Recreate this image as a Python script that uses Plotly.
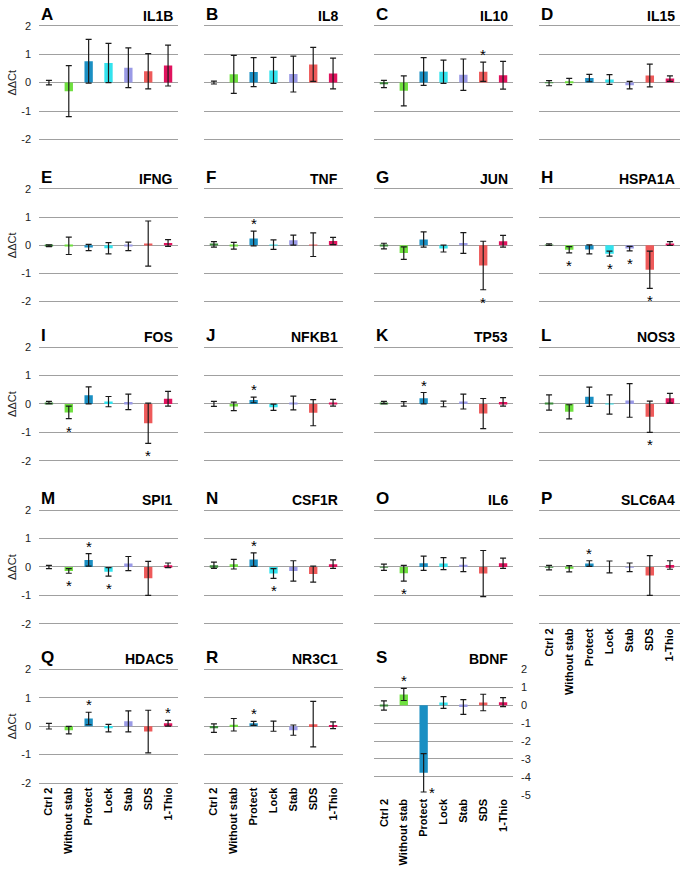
import plotly.graph_objects as go

# ---------------- data ----------------
categories = ["Ctrl 2", "Without stab", "Protect", "Lock", "Stab", "SDS", "1-Thio"]
bar_colors = ["#3c8c3c", "#6fe03f", "#1a8fc3", "#33e3ee", "#9a9ae6", "#ee5a5a", "#e0135e"]
genes = ["IL1B", "IL8", "IL10", "IL15", "IFNG", "TNF", "JUN", "HSPA1A", "FOS", "NFKB1",
         "TP53", "NOS3", "SPI1", "CSF1R", "IL6", "SLC6A4", "HDAC5", "NR3C1", "BDNF"]
letters = ["A", "B", "C", "D", "E", "F", "G", "H", "I", "J",
           "K", "L", "M", "N", "O", "P", "Q", "R", "S"]
yticks_std = [-2, -1, 0, 1, 2]
yticks_bdnf = [-5, -4, -3, -2, -1, 0, 1, 2]
y_title = "ΔΔCt"

# mean ΔΔCt, error, significance ("+" above, "-" below, "r" right of lower end)
IL1B_mean = [0.00, -0.30, 0.75, 0.69, 0.52, 0.40, 0.60]
IL1B_err = [0.08, 0.90, 0.77, 0.69, 0.70, 0.62, 0.72]
IL1B_sig = ["", "", "", "", "", "", ""]

IL8_mean = [0.00, 0.29, 0.37, 0.43, 0.30, 0.64, 0.32]
IL8_err = [0.05, 0.67, 0.51, 0.46, 0.63, 0.60, 0.54]
IL8_sig = ["", "", "", "", "", "", ""]

IL10_mean = [-0.05, -0.29, 0.39, 0.38, 0.28, 0.38, 0.26]
IL10_err = [0.13, 0.53, 0.49, 0.41, 0.55, 0.34, 0.49]
IL10_sig = ["", "", "", "", "", "+", ""]

IL15_mean = [-0.02, 0.04, 0.16, 0.11, -0.09, 0.25, 0.14]
IL15_err = [0.09, 0.11, 0.13, 0.17, 0.13, 0.40, 0.10]
IL15_sig = ["", "", "", "", "", "", ""]

IFNG_mean = [-0.02, -0.02, -0.08, -0.11, -0.04, 0.06, 0.08]
IFNG_err = [0.03, 0.31, 0.11, 0.20, 0.15, 0.80, 0.12]
IFNG_sig = ["", "", "", "", "", "", ""]

TNF_mean = [0.03, -0.02, 0.24, 0.02, 0.18, 0.02, 0.15]
TNF_err = [0.10, 0.12, 0.26, 0.17, 0.18, 0.42, 0.13]
TNF_sig = ["", "", "+", "", "", "", ""]

JUN_mean = [-0.03, -0.28, 0.20, -0.12, 0.08, -0.72, 0.14]
JUN_err = [0.10, 0.22, 0.27, 0.12, 0.37, 0.86, 0.21]
JUN_sig = ["", "", "", "", "", "-", ""]

HSPA1A_mean = [0.02, -0.16, -0.15, -0.30, -0.12, -0.87, 0.06]
HSPA1A_err = [0.03, 0.11, 0.16, 0.09, 0.08, 0.66, 0.07]
HSPA1A_sig = ["", "-", "", "-", "-", "-", ""]

FOS_mean = [0.05, -0.30, 0.30, 0.08, 0.07, -0.68, 0.18]
FOS_err = [0.04, 0.22, 0.30, 0.18, 0.27, 0.71, 0.26]
FOS_sig = ["", "-", "", "", "", "-", ""]

NFKB1_mean = [0.00, -0.09, 0.14, -0.12, 0.03, -0.31, 0.04]
NFKB1_err = [0.09, 0.15, 0.10, 0.11, 0.24, 0.46, 0.12]
NFKB1_sig = ["", "", "+", "", "", "", ""]

TP53_mean = [0.05, 0.00, 0.20, 0.00, 0.08, -0.34, 0.07]
TP53_err = [0.04, 0.08, 0.20, 0.10, 0.26, 0.53, 0.15]
TP53_sig = ["", "", "+", "", "", "", ""]

NOS3_mean = [0.05, -0.28, 0.25, -0.02, 0.12, -0.45, 0.20]
NOS3_err = [0.27, 0.25, 0.34, 0.34, 0.59, 0.55, 0.17]
NOS3_sig = ["", "", "", "", "", "-", ""]

SPI1_mean = [0.00, -0.14, 0.25, -0.17, 0.12, -0.40, 0.06]
SPI1_err = [0.06, 0.08, 0.22, 0.15, 0.25, 0.60, 0.08]
SPI1_sig = ["", "-", "+", "-", "", "", ""]

CSF1R_mean = [0.06, 0.10, 0.26, -0.23, -0.14, -0.25, 0.10]
CSF1R_err = [0.11, 0.17, 0.24, 0.17, 0.36, 0.28, 0.15]
CSF1R_sig = ["", "", "+", "-", "", "", ""]

IL6_mean = [-0.01, -0.22, 0.13, 0.12, 0.08, -0.23, 0.13]
IL6_err = [0.11, 0.28, 0.25, 0.21, 0.24, 0.81, 0.18]
IL6_sig = ["", "-", "", "", "", "", ""]

SLC6A4_mean = [-0.02, -0.06, 0.12, 0.00, -0.01, -0.30, 0.07]
SLC6A4_err = [0.08, 0.11, 0.10, 0.21, 0.15, 0.70, 0.15]
SLC6A4_sig = ["", "", "+", "", "", "", ""]

HDAC5_mean = [0.00, -0.14, 0.27, -0.07, 0.17, -0.19, 0.10]
HDAC5_err = [0.10, 0.13, 0.22, 0.13, 0.37, 0.75, 0.10]
HDAC5_sig = ["", "", "+", "", "", "", "+"]

NR3C1_mean = [-0.07, 0.05, 0.10, 0.00, -0.14, 0.07, 0.03]
NR3C1_err = [0.15, 0.22, 0.07, 0.18, 0.18, 0.80, 0.12]
NR3C1_sig = ["", "", "+", "", "", "", ""]

BDNF_mean = [-0.02, 0.60, -3.77, 0.15, -0.10, 0.15, 0.17]
BDNF_err = [0.26, 0.34, 1.07, 0.33, 0.41, 0.46, 0.25]
BDNF_sig = ["", "+", "r", "", "", "", ""]

means = [IL1B_mean, IL8_mean, IL10_mean, IL15_mean, IFNG_mean, TNF_mean, JUN_mean,
         HSPA1A_mean, FOS_mean, NFKB1_mean, TP53_mean, NOS3_mean, SPI1_mean, CSF1R_mean,
         IL6_mean, SLC6A4_mean, HDAC5_mean, NR3C1_mean, BDNF_mean]
errs = [IL1B_err, IL8_err, IL10_err, IL15_err, IFNG_err, TNF_err, JUN_err,
        HSPA1A_err, FOS_err, NFKB1_err, TP53_err, NOS3_err, SPI1_err, CSF1R_err,
        IL6_err, SLC6A4_err, HDAC5_err, NR3C1_err, BDNF_err]
sigs = [IL1B_sig, IL8_sig, IL10_sig, IL15_sig, IFNG_sig, TNF_sig, JUN_sig,
        HSPA1A_sig, FOS_sig, NFKB1_sig, TP53_sig, NOS3_sig, SPI1_sig, CSF1R_sig,
        IL6_sig, SLC6A4_sig, HDAC5_sig, NR3C1_sig, BDNF_sig]

# ---------------- layout geometry (pixels) ----------------
W, H = 683, 874
FONT = "Liberation Sans, Arial, sans-serif"
col_px = [(39, 178), (204, 343), (374, 513), (539, 680)]
row_px = [(21, 136), (186, 300), (346, 461), (511, 626), (672, 787)]
bdnf_px = (672, 799)
PAD = 0.05

fig = go.Figure()
layout = {}
annotations = []

for i, gene in enumerate(genes):
    r, c = divmod(i, 4)
    n = i + 1
    xa = "x" if n == 1 else f"x{n}"
    ya = "y" if n == 1 else f"y{n}"
    is_bdnf = gene == "BDNF"
    x0, x1 = col_px[c]
    if is_bdnf:
        top, bot = bdnf_px
        ticks = yticks_bdnf
    else:
        top, bot = row_px[r]
        ticks = yticks_std
    lo, hi = ticks[0], ticks[-1]
    u = (bot - top) / (hi - lo)
    dtop = top - PAD * u
    dbot = bot + PAD * u

    fig.add_trace(go.Bar(
        x=categories, y=means[i], width=0.42,
        marker=dict(color=bar_colors, line=dict(width=0)),
        error_y=dict(type="data", array=errs[i], visible=True,
                     color="#1a1a1a", thickness=1.2, width=3),
        xaxis=xa, yaxis=ya, showlegend=False, hoverinfo="skip"))

    show_x = i >= 15
    layout["xaxis" if n == 1 else f"xaxis{n}"] = dict(
        domain=[x0 / W, x1 / W], anchor=ya, type="category",
        categoryorder="array", categoryarray=categories, range=[-0.5, 6.5],
        showgrid=False, zeroline=False, showline=False, ticks="",
        showticklabels=show_x, tickangle=-90,
        tickfont=dict(size=11, family=FONT, color="#000", weight="bold"),
        fixedrange=True)
    layout["yaxis" if n == 1 else f"yaxis{n}"] = dict(
        domain=[1 - dbot / H, 1 - dtop / H], anchor=xa,
        range=[lo - PAD, hi + PAD], tickmode="array", tickvals=ticks,
        ticktext=[str(t) for t in ticks],
        showgrid=True, gridcolor="#a0a0a0", gridwidth=1.2,
        zeroline=False, showline=False, ticks="",
        showticklabels=(c == 0 or is_bdnf), side="right" if is_bdnf else "left",
        ticklabelstandoff=7,
        tickfont=dict(size=11, family=FONT, color="#222"),
        fixedrange=True)

    # panel letter and gene title
    annotations.append(dict(x=x0 / W, y=1 - top / H, xref="paper", yref="paper",
                            xanchor="left", yanchor="bottom", yshift=0, showarrow=False,
                            text=f"<b>{letters[i]}</b>",
                            font=dict(size=17, family=FONT, color="#000")))
    annotations.append(dict(x=(x1 - 3) / W, y=1 - top / H, xref="paper", yref="paper",
                            xanchor="right", yanchor="bottom", yshift=0, showarrow=False,
                            text=f"<b>{gene}</b>",
                            font=dict(size=14, family=FONT, color="#000")))
    if c == 0:
        annotations.append(dict(x=12 / W, y=1 - (top + bot) / 2 / H, xref="paper", yref="paper",
                                xanchor="center", yanchor="middle", showarrow=False,
                                textangle=-90, text=y_title,
                                font=dict(size=11, family=FONT, color="#222")))

    # significance asterisks
    for k, s in enumerate(sigs[i]):
        if not s:
            continue
        m, e = means[i][k], errs[i][k]
        if s == "+":
            annotations.append(dict(x=categories[k], y=m + e, xref=xa, yref=ya,
                                    xanchor="center", yanchor="bottom", yshift=-3,
                                    showarrow=False, text="*",
                                    font=dict(size=15, family=FONT, color="#000")))
        elif s == "-":
            annotations.append(dict(x=categories[k], y=m - e, xref=xa, yref=ya,
                                    xanchor="center", yanchor="top", yshift=-2,
                                    showarrow=False, text="*",
                                    font=dict(size=15, family=FONT, color="#000")))
        else:
            annotations.append(dict(x=categories[k], y=m - e, xref=xa, yref=ya,
                                    xanchor="left", yanchor="middle", xshift=3, yshift=-1,
                                    showarrow=False, text="*",
                                    font=dict(size=15, family=FONT, color="#000")))

fig.update_layout(**layout)
fig.update_layout(
    width=W, height=H, margin=dict(l=0, r=0, t=0, b=0),
    paper_bgcolor="white", plot_bgcolor="white",
    bargap=0.4, showlegend=False, annotations=annotations,
    font=dict(family=FONT, color="#000"))

fig.write_html("out.html", config={"displayModeBar": False},
               post_script="document.body.style.margin='0';document.body.style.overflow='hidden';")
